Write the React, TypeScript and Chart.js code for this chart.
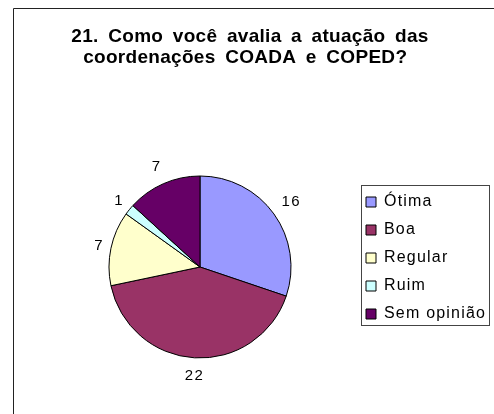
import React, { useEffect, useRef } from "react";
import { Chart, registerables } from "chart.js";

Chart.register(...registerables);

const TITLE_LINES = ["21. Como você avalia a atuação das", "coordenações COADA e COPED? "];
const CATEGORIES = ["Ótima", "Boa", "Regular", "Ruim", "Sem opinião"];
const VALUES = [16, 22, 7, 1, 7];
const COLORS = ["#9999FF", "#993366", "#FFFFCC", "#CCFFFF", "#660066"];

const FONT = "'Liberation Sans', Arial, sans-serif";
const W = 494;
const H = 414;

function setSpacing(ctx: any, letter: string, word: string) {
  ctx.letterSpacing = letter;
  ctx.wordSpacing = word;
}

export default function App() {
  const ref = useRef<HTMLCanvasElement>(null);

  useEffect(() => {
    const canvas = ref.current;
    if (!canvas) return;
    const frame = { x: 361.5, y: 185.5, w: 128, h: 140 };

    const excelLook = {
      id: "excelLook",
      afterLayout(chart: any) {
        const lg = chart.legend;
        if (lg) {
          lg.left = 354;
          lg.right = W;
          lg.top = 176;
          lg.bottom = 340;
          lg.width = lg.right - lg.left;
          lg.height = lg.bottom - lg.top;
        }
        const tb = chart.titleBlock;
        if (tb && !tb.__wrapped) {
          const orig = tb.draw;
          tb.draw = function (...args: any[]) {
            const ctx = chart.ctx;
            setSpacing(ctx, "0.3px", "4px");
            orig.apply(this, args);
            setSpacing(ctx, "1.2px", "0px");
          };
          tb.__wrapped = true;
        }
      },
      beforeDraw(chart: any) {
        const ctx = chart.ctx as CanvasRenderingContext2D;
        ctx.save();
        ctx.strokeStyle = "#222";
        ctx.lineWidth = 1;
        ctx.beginPath();
        ctx.moveTo(13.5, H);
        ctx.lineTo(13.5, 8.5);
        ctx.lineTo(W, 8.5);
        ctx.stroke();
        ctx.strokeStyle = "#444";
        ctx.strokeRect(frame.x, frame.y, frame.w, frame.h);
        ctx.restore();
        setSpacing(ctx, "1.2px", "0px");
      },
      afterDatasetsDraw(chart: any) {
        const ctx = chart.ctx as CanvasRenderingContext2D;
        const meta = chart.getDatasetMeta(0);
        ctx.save();
        ctx.font = `15px ${FONT}`;
        setSpacing(ctx, "1.5px", "0px");
        ctx.fillStyle = "#000";
        ctx.textAlign = "center";
        ctx.textBaseline = "middle";
        meta.data.forEach((arc: any, i: number) => {
          const { x, y, startAngle, endAngle, outerRadius } = arc.getProps(
            ["x", "y", "startAngle", "endAngle", "outerRadius"],
            true
          );
          const mid = (startAngle + endAngle) / 2;
          const txt = String(VALUES[i]);
          const w = ctx.measureText(txt).width;
          const h = 20;
          const c = Math.abs(Math.cos(mid));
          const s = Math.abs(Math.sin(mid));
          const half = Math.min(c > 1e-6 ? w / 2 / c : Infinity, s > 1e-6 ? h / 2 / s : Infinity);
          const d = outerRadius + 8 + half;
          ctx.fillText(txt, x + Math.cos(mid) * d + 1, y + Math.sin(mid) * d);
        });
        ctx.restore();
      },
      afterDraw(chart: any) {
        setSpacing(chart.ctx, "0px", "0px");
      },
    };

    const chart = new Chart(canvas, {
      type: "pie",
      data: {
        labels: CATEGORIES,
        datasets: [
          {
            data: VALUES,
            backgroundColor: COLORS,
            borderColor: "#000",
            borderWidth: 1,
            radius: 91,
          } as any,
        ],
      },
      options: {
        responsive: false,
        animation: false,
        devicePixelRatio: 1,
        events: [],
        layout: { padding: { left: 6, right: 0, top: 0, bottom: 0 } },
        plugins: {
          tooltip: { enabled: false },
          title: {
            display: true,
            text: TITLE_LINES,
            color: "#000",
            font: { family: FONT, size: 19, weight: "bold", lineHeight: "21px" },
            padding: { top: 26.5, bottom: 51.5 },
          },
          legend: {
            position: "right",
            maxWidth: 100,
            labels: {
              boxWidth: 10,
              boxHeight: 10,
              padding: 12,
              color: "#000",
              font: { family: FONT, size: 16 },
            },
          },
        },
      } as any,
      plugins: [excelLook],
    });

    return () => chart.destroy();
  }, []);

  return (
    <div style={{ position: "absolute", left: 0, top: 0, width: W, height: H, background: "#fff" }}>
      <canvas ref={ref} width={W} height={H} style={{ display: "block" }} />
    </div>
  );
}
